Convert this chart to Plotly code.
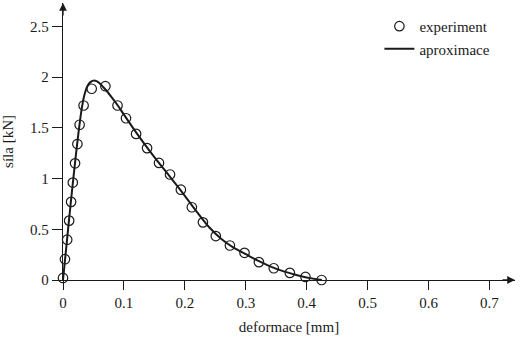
import plotly.graph_objects as go

# experiment points
exp_x = [0.0, 0.0032, 0.0069, 0.0101, 0.0133, 0.0161, 0.0198, 0.0236, 0.0273, 0.0338,
         0.0471, 0.0696, 0.0895, 0.1034, 0.120, 0.138, 0.1576, 0.1757, 0.1935, 0.2115,
         0.2297, 0.2508, 0.274, 0.298, 0.3216, 0.346, 0.3724, 0.398, 0.4245]
exp_y = [0.02, 0.205, 0.397, 0.585, 0.77, 0.96, 1.15, 1.34, 1.53, 1.72,
         1.885, 1.91, 1.72, 1.594, 1.44, 1.30, 1.154, 1.04, 0.89, 0.717,
         0.568, 0.433, 0.34, 0.268, 0.176, 0.116, 0.07, 0.03, 0.0]

# approximation curve
fit_x = [0.0, 0.005, 0.01, 0.015, 0.02, 0.025, 0.03, 0.035, 0.04, 0.045, 0.05, 0.055,
         0.06, 0.07, 0.08, 0.09, 0.10, 0.12, 0.14, 0.16, 0.18, 0.20, 0.22, 0.24, 0.26,
         0.28, 0.30, 0.32, 0.34, 0.36, 0.38, 0.40, 0.425]
fit_y = [0.0, 0.30, 0.60, 0.89, 1.17, 1.43, 1.66, 1.82, 1.91, 1.95, 1.965, 1.96,
         1.94, 1.875, 1.80, 1.72, 1.63, 1.455, 1.29, 1.135, 0.985, 0.83, 0.67, 0.52, 0.405,
         0.32, 0.255, 0.19, 0.135, 0.09, 0.055, 0.025, 0.0]

x_ticks = [0, 0.1, 0.2, 0.3, 0.4, 0.5, 0.6, 0.7]
x_labels = ["0", "0.1", "0.2", "0.3", "0.4", "0.5", "0.6", "0.7"]
y_ticks = [0, 0.5, 1, 1.5, 2, 2.5]
y_labels = ["0", "0.5", "1", "1.5", "2", "2.5"]

ink = "#1a1a1a"
font = dict(family="Liberation Serif", size=15, color=ink)

fig = go.Figure()
fig.add_trace(go.Scatter(
    x=exp_x, y=exp_y, mode="markers", name="experiment",
    marker=dict(symbol="circle-open", size=9.5, color=ink, line=dict(width=1.2, color=ink)),
    cliponaxis=False))
fig.add_trace(go.Scatter(
    x=fit_x, y=fit_y, mode="lines", name="aproximace",
    line=dict(color=ink, width=2, shape="spline", smoothing=0.6),
    cliponaxis=False))

fig.update_layout(
    width=531, height=337,
    margin=dict(l=63, r=16, t=3, b=57),
    paper_bgcolor="white", plot_bgcolor="white",
    font=font,
    showlegend=True,
    legend=dict(x=0.70, y=0.975, xanchor="left", yanchor="top",
                bgcolor="rgba(0,0,0,0)", font=dict(family="Liberation Serif", size=15, color=ink),
                tracegroupgap=0, itemwidth=30),
    xaxis=dict(range=[0, 0.742], tickvals=x_ticks, ticktext=x_labels,
               showgrid=False, zeroline=False, showline=True, linecolor=ink, linewidth=1.3,
               ticks="outside", ticklen=9, tickwidth=1.3, tickcolor=ink,
               title=dict(text="deformace [mm]", standoff=11, font=font)),
    yaxis=dict(range=[0, 2.73], tickvals=y_ticks, ticktext=y_labels,
               showgrid=False, zeroline=False, showline=True, linecolor=ink, linewidth=1.3,
               ticks="outside", ticklen=10, tickwidth=1.3, tickcolor=ink,
               title=dict(text="síla [kN]", standoff=12, font=font)),
)

# axis arrowheads
fig.add_annotation(x=1, y=0, xref="paper", yref="paper", text="", showarrow=True,
                   ax=-14, ay=0, arrowhead=2, arrowsize=1.2, arrowwidth=1.3, arrowcolor=ink)
fig.add_annotation(x=0, y=1, xref="paper", yref="paper", text="", showarrow=True,
                   ax=0, ay=14, arrowhead=2, arrowsize=1.2, arrowwidth=1.3, arrowcolor=ink)

fig.write_html("out.html")
